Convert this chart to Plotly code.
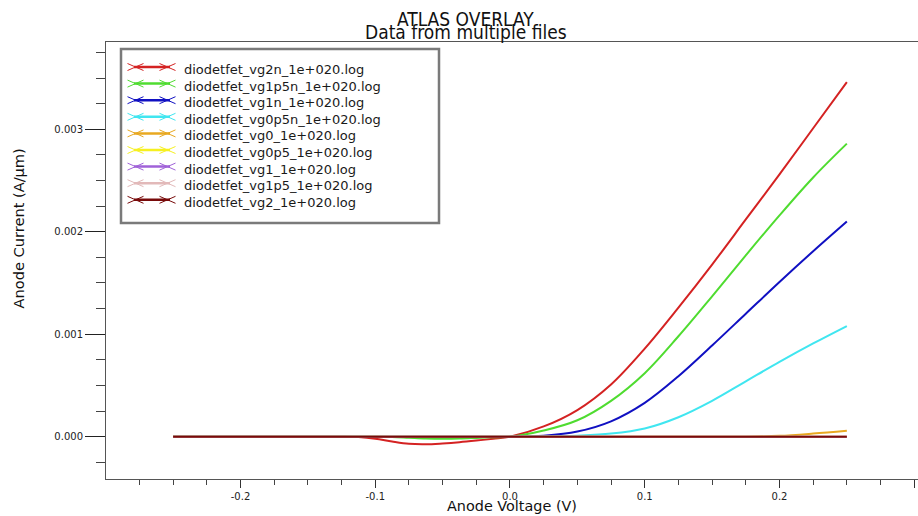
import plotly.graph_objects as go

# Anode voltage sweep (V)
voltage = [-0.25, -0.2, -0.15, -0.125, -0.1125, -0.1, -0.0875, -0.075, -0.0625,
           -0.05, -0.0375, -0.025, -0.0125, 0.0, 0.025, 0.05, 0.075, 0.1,
           0.125, 0.15, 0.175, 0.2, 0.225, 0.25]

# Anode current (A/um) for each gate-bias log file
i_vg2n = [0, 0, 0, 0, -0.000004, -0.00002, -0.000048, -0.00007, -0.000074,
          -0.000066, -0.000054, -0.000038, -0.00002, 0.0, 0.0001, 0.00026, 0.00051, 0.00086,
          0.00126, 0.00168, 0.00212, 0.00256, 0.00301, 0.00346]
i_vg1p5n = [0, 0, 0, 0, 0, 0, -0.000003, -0.00001, -0.000017,
            -0.00002, -0.000018, -0.000012, -0.000005, 0.0, 0.00006, 0.00016, 0.00035, 0.00062,
            0.00098, 0.00137, 0.00177, 0.00216, 0.00253, 0.00286]
i_vg1n = [0, 0, 0, 0, 0, 0, 0, 0, 0,
          0, 0, 0, 0, 0.0, 0.00001, 0.00005, 0.00015, 0.00033,
          0.00059, 0.00089, 0.0012, 0.00151, 0.00181, 0.0021]
i_vg0p5n = [0, 0, 0, 0, 0, 0, 0, 0, 0,
            0, 0, 0, 0, 0.0, 0.000002, 0.00001, 0.00003, 0.00008,
            0.00019, 0.00035, 0.00054, 0.00073, 0.00091, 0.00108]
i_vg0 = [0, 0, 0, 0, 0, 0, 0, 0, 0,
         0, 0, 0, 0, 0.0, 0, 0, 0, 0,
         0, 0, 0, 0.000008, 0.00003, 0.000057]
i_vg0p5 = [0.0] * 24
i_vg1 = [0.0] * 24
i_vg1p5 = [0.0] * 24
i_vg2 = [0.0] * 24

series_names = ["diodetfet_vg2n_1e+020.log", "diodetfet_vg1p5n_1e+020.log",
                "diodetfet_vg1n_1e+020.log", "diodetfet_vg0p5n_1e+020.log",
                "diodetfet_vg0_1e+020.log", "diodetfet_vg0p5_1e+020.log",
                "diodetfet_vg1_1e+020.log", "diodetfet_vg1p5_1e+020.log",
                "diodetfet_vg2_1e+020.log"]
series_values = [i_vg2n, i_vg1p5n, i_vg1n, i_vg0p5n, i_vg0, i_vg0p5, i_vg1, i_vg1p5, i_vg2]
series_colors = ["#d42222", "#4fdc30", "#1010c2", "#40e6f0", "#e8a820",
                 "#f6f020", "#a062d8", "#e2b9b9", "#780a0a"]

x_tickvals = [-0.2, -0.1, 0.0, 0.1, 0.2, 0.3]
x_ticktext = ["-0.2", "-0.1", "0.0", "0.1", "0.2", "0.3"]
y_tickvals = [0.0, 0.001, 0.002, 0.003]
y_ticktext = ["0.000", "0.001", "0.002", "0.003"]

W, H = 918, 516
L, R, T, B = 106, 918, 42, 479


def px(x):
    return (x - L) / (R - L)


def py(y):
    return (B - y) / (B - T)


fig = go.Figure()
for name, vals, col in zip(series_names, series_values, series_colors):
    fig.add_trace(go.Scatter(x=voltage, y=vals, name=name, mode="lines",
                             line=dict(color=col, width=2, shape="spline", smoothing=1.0),
                             showlegend=False))

shapes = []
annotations = []

# legend box
shapes.append(dict(type="rect", xref="paper", yref="paper",
                   x0=px(121), x1=px(439), y0=py(49), y1=py(223),
                   line=dict(color="#7a7a7a", width=2.5), fillcolor="white", layer="above"))
for k, (name, col) in enumerate(zip(series_names, series_colors)):
    ty = 69.5 + 16.6 * k
    ly = ty - 2.5
    shapes.append(dict(type="line", xref="paper", yref="paper",
                       x0=px(134), x1=px(170), y0=py(ly), y1=py(ly),
                       line=dict(color=col, width=2.5), layer="above"))
    for cx in (135.5, 167.5):
        shapes.append(dict(type="line", xref="paper", yref="paper",
                           x0=px(cx - 8), x1=px(cx + 8), y0=py(ly - 3.5), y1=py(ly + 3.5),
                           line=dict(color=col, width=1), layer="above"))
        shapes.append(dict(type="line", xref="paper", yref="paper",
                           x0=px(cx - 8), x1=px(cx + 8), y0=py(ly + 3.5), y1=py(ly - 3.5),
                           line=dict(color=col, width=1), layer="above"))
    annotations.append(dict(text=name, xref="paper", yref="paper", x=px(182), y=py(ty),
                            xanchor="left", yanchor="middle", showarrow=False,
                            font=dict(family="DejaVu Sans", size=13, color="#1a1a1a")))

title_font = dict(family="DejaVu Sans Condensed, Liberation Sans Narrow, DejaVu Sans",
                  size=19, color="#111")
annotations.append(dict(text="ATLAS OVERLAY", xref="paper", yref="paper",
                        x=px(465), y=py(19), xanchor="center", yanchor="middle",
                        showarrow=False, font=title_font))
annotations.append(dict(text="Data from multiple files", xref="paper", yref="paper",
                        x=px(466), y=py(32), xanchor="center", yanchor="middle",
                        showarrow=False, font=title_font))
annotations.append(dict(text="Anode Voltage (V)", xref="paper", yref="paper",
                        x=px(512), y=py(506), xanchor="center", yanchor="middle",
                        showarrow=False,
                        font=dict(family="DejaVu Sans", size=14.4, color="#111")))
annotations.append(dict(text="Anode Current (A/µm)", xref="paper", yref="paper",
                        x=px(18.5), y=py(229), xanchor="center", yanchor="middle",
                        textangle=-90, showarrow=False,
                        font=dict(family="DejaVu Sans", size=14.6, color="#111")))

tick_font = dict(family="DejaVu Sans", size=10, color="#222")

fig.update_layout(
    width=W, height=H,
    margin=dict(l=L, r=W - R, t=T, b=H - B, pad=0),
    paper_bgcolor="white", plot_bgcolor="white",
    showlegend=False,
    shapes=shapes, annotations=annotations,
    xaxis=dict(range=[-0.2998, 0.3028], showgrid=False, zeroline=False,
               showline=True, linecolor="#555", linewidth=1, mirror=True,
               ticks="outside", ticklen=8, tickwidth=1, tickcolor="#333",
               tickmode="array", tickvals=x_tickvals, ticktext=x_ticktext,
               tickfont=tick_font,
               minor=dict(ticks="outside", ticklen=5, tickwidth=1, tickcolor="#444",
                          tickmode="linear", tick0=0, dtick=0.025, showgrid=False)),
    yaxis=dict(range=[-0.000413, 0.003852], showgrid=False, zeroline=False,
               showline=True, linecolor="#555", linewidth=1,
               ticks="outside", ticklen=20, tickwidth=1, tickcolor="#222",
               tickmode="array", tickvals=y_tickvals, ticktext=y_ticktext,
               tickfont=tick_font,
               minor=dict(ticks="outside", ticklen=9, tickwidth=1, tickcolor="#444",
                          tickmode="linear", tick0=0, dtick=0.00025, showgrid=False)),
)

fig.write_html("out.html")
